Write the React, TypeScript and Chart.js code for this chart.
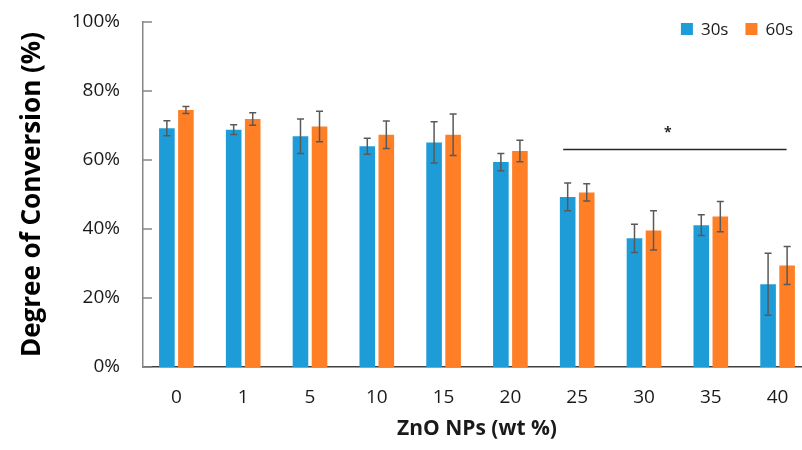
import React, { useEffect, useRef } from 'react';
import { Chart, registerables } from 'chart.js';

Chart.register(...registerables);

// ---- data ----
const categories = ['0', '1', '5', '10', '15', '20', '25', '30', '35', '40'];
const series30 = [69.2, 68.8, 66.9, 64.0, 65.1, 59.4, 49.3, 37.3, 41.1, 24.0];
const error30 = [2.2, 1.4, 5.0, 2.3, 6.0, 2.5, 4.0, 4.1, 3.0, 9.0];
const series60 = [74.5, 71.9, 69.7, 67.3, 67.3, 62.6, 50.6, 39.6, 43.6, 29.4];
const error60 = [1.0, 1.8, 4.4, 4.0, 6.0, 3.1, 2.5, 5.7, 4.4, 5.5];
const seriesLabels = ['30s', '60s'];
const yTickValues = [0, 20, 40, 60, 80, 100];
const sigFrom = '25';
const sigTo = '40';
const sigLevel = 63.2;
const sigLabel = '*';

const BLUE = '#1E9CD8';
const ORANGE = '#FF7F27';
const FONT = "'Open Sans', 'Noto Sans', sans-serif";

const errorBarPlugin = {
  id: 'errorBars',
  afterDatasetsDraw(chart: any) {
    const ctx = chart.ctx;
    const y = chart.scales.y;
    const errs = [error30, error60];
    ctx.save();
    ctx.strokeStyle = '#595959';
    ctx.lineWidth = 1.5;
    chart.data.datasets.forEach((ds: any, di: number) => {
      const meta = chart.getDatasetMeta(di);
      meta.data.forEach((bar: any, i: number) => {
        const v = ds.data[i];
        const e = errs[di][i];
        const yt = y.getPixelForValue(v + e);
        const yb = y.getPixelForValue(v - e);
        const x = bar.x;
        ctx.beginPath();
        ctx.moveTo(x, yt);
        ctx.lineTo(x, yb);
        ctx.moveTo(x - 3.5, yt);
        ctx.lineTo(x + 3.5, yt);
        ctx.moveTo(x - 3.5, yb);
        ctx.lineTo(x + 3.5, yb);
        ctx.stroke();
      });
    });
    ctx.restore();
  },
};

const decorPlugin = {
  id: 'decor',
  afterDraw(chart: any) {
    const ctx = chart.ctx;
    const y = chart.scales.y;
    const x = chart.scales.x;
    const area = chart.chartArea;
    ctx.save();
    // inward ticks on the y axis
    ctx.strokeStyle = '#868686';
    ctx.lineWidth = 1.5;
    yTickValues.forEach((v) => {
      const py = y.getPixelForValue(v);
      ctx.beginPath();
      ctx.moveTo(area.left, py);
      ctx.lineTo(area.left + 9, py);
      ctx.stroke();
    });
    // significance line
    const i0 = categories.indexOf(sigFrom);
    const i1 = categories.indexOf(sigTo);
    const x0 = x.getPixelForValue(i0) - 14;
    const x1 = x.getPixelForValue(i1) + 9;
    const ly = Math.round(y.getPixelForValue(sigLevel)) + 0.5;
    ctx.strokeStyle = '#262626';
    ctx.lineWidth = 1.3;
    ctx.beginPath();
    ctx.moveTo(x0, ly);
    ctx.lineTo(x1, ly);
    ctx.stroke();
    ctx.fillStyle = '#262626';
    ctx.font = `bold 14px ${FONT}`;
    ctx.textAlign = 'center';
    ctx.textBaseline = 'middle';
    ctx.fillText(sigLabel, (x0 + x1) / 2 - 7, ly - 16);
    // legend
    ctx.font = `17px ${FONT}`;
    ctx.textBaseline = 'middle';
    ctx.textAlign = 'left';
    const colors = [BLUE, ORANGE];
    let right = 793;
    const cy = 29;
    for (let k = seriesLabels.length - 1; k >= 0; k--) {
      const w = ctx.measureText(seriesLabels[k]).width;
      const tx = right - w;
      ctx.fillStyle = '#1a1a1a';
      ctx.fillText(seriesLabels[k], tx, cy + 1);
      ctx.fillStyle = colors[k];
      ctx.fillRect(tx - 20, cy - 6, 12, 12);
      right = tx - 20 - 17;
    }
    ctx.restore();
  },
};

export default function App() {
  const ref = useRef<HTMLCanvasElement | null>(null);
  useEffect(() => {
    document.body.style.margin = '0';
    const canvas = ref.current;
    if (!canvas) return;
    const chart = new Chart(canvas, {
      type: 'bar',
      data: {
        labels: categories,
        datasets: [
          { label: seriesLabels[0], data: series30, backgroundColor: BLUE, categoryPercentage: 0.57, barPercentage: 0.82 },
          { label: seriesLabels[1], data: series60, backgroundColor: ORANGE, categoryPercentage: 0.57, barPercentage: 0.82 },
        ],
      },
      options: {
        responsive: false,
        devicePixelRatio: 1,
        animation: false,
        layout: { padding: { top: 22, left: 0, right: 0, bottom: 0 } },
        plugins: { legend: { display: false }, tooltip: { enabled: false } },
        scales: {
          x: {
            grid: { display: false, drawTicks: false },
            border: { display: true, color: '#404040', width: 1.5 },
            ticks: { color: '#1a1a1a', font: { family: FONT, size: 19 }, padding: 19 },
            title: {
              display: true,
              text: 'ZnO NPs (wt %)',
              color: '#1a1a1a',
              font: { family: FONT, size: 21, weight: 'bold', lineHeight: 1.2 },
              padding: { top: 0, bottom: 8 },
              align: 'center',
            },
            afterFit: (s: any) => { s.height = 83; s.paddingLeft = 0; s.paddingRight = 0; },
          },
          y: {
            min: 0,
            max: 100,
            grid: { display: false, drawTicks: false },
            border: { display: true, color: '#868686', width: 1.5 },
            ticks: {
              stepSize: 20,
              color: '#1a1a1a',
              font: { family: FONT, size: 19 },
              padding: 23,
              callback: (v: any) => v + '%',
            },
            title: {
              display: true,
              text: 'Degree of Conversion (%)',
              color: '#000000',
              font: { family: FONT, size: 26, weight: 'bold', lineHeight: 1.2 },
              padding: { top: 17, bottom: 0 },
            },
            afterFit: (s: any) => { s.width = 143; s.paddingTop = 0; s.paddingBottom = 0; },
          },
        },
      },
      plugins: [errorBarPlugin, decorPlugin],
    } as any);
    return () => chart.destroy();
  }, []);
  return (
    <div style={{ width: 802, height: 450, overflow: 'hidden', position: 'relative', background: '#fff' }}>
      <canvas ref={ref} width={811} height={450} style={{ display: 'block' }} />
    </div>
  );
}
